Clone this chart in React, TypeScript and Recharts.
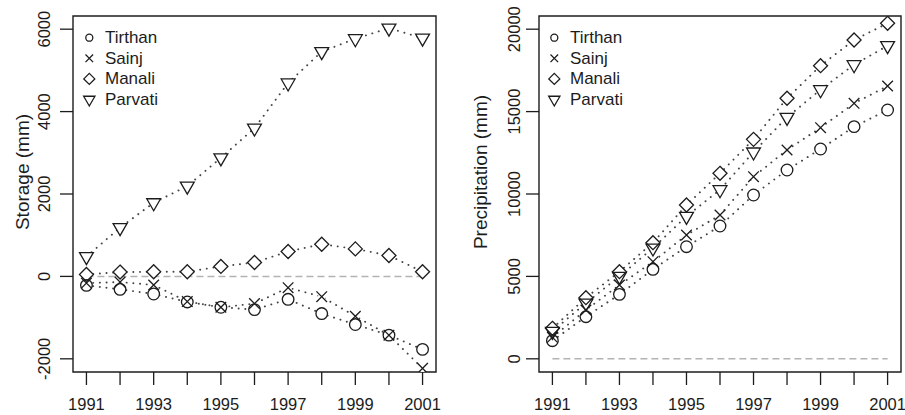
import React from "react";
import {
  LineChart,
  Line,
  XAxis,
  YAxis,
  ReferenceLine,
  ReferenceArea,
  Legend,
} from "recharts";

const FONT = "'Liberation Sans', Arial, Helvetica, sans-serif";
const INK = "#1c1c1c";

const years = [1991, 1992, 1993, 1994, 1995, 1996, 1997, 1998, 1999, 2000, 2001];
const yearLabels = [1991, 1993, 1995, 1997, 1999, 2001];

const seriesNames = ["Tirthan", "Sainj", "Manali", "Parvati"];
const seriesKeys = ["tirthan", "sainj", "manali", "parvati"];
const seriesShapes = ["circle", "cross", "diamond", "triangle"];

// storage (mm)
const storageTirthan = [-217, -314, -427, -620, -749, -805, -556, -902, -1168, -1426, -1772];
const storageSainj = [-161, -137, -209, -610, -749, -660, -274, -491, -967, -1426, -2232];
const storageManali = [48, 105, 113, 113, 242, 338, 604, 781, 668, 507, 113];
const storageParvati = [480, 1184, 1788, 2192, 2876, 3600, 4695, 5454, 5769, 6025, 5783];
const storageTicks = [-2000, 0, 2000, 4000, 6000];

// precipitation (mm)
const precipTirthan = [1100, 2556, 3912, 5430, 6802, 8058, 9940, 11456, 12730, 14085, 15097];
const precipSainj = [1305, 2961, 4478, 5892, 7512, 8725, 11050, 12670, 14023, 15500, 16553];
const precipManali = [1850, 3708, 5286, 7045, 9333, 11256, 13316, 15807, 17785, 19345, 20357];
const precipParvati = [1667, 3385, 5003, 6722, 8645, 10260, 12547, 14652, 16328, 17845, 18998];
const precipTicks = [0, 5000, 10000, 15000, 20000];

const storageRows = years.map((year, i) => ({
  year,
  tirthan: storageTirthan[i],
  sainj: storageSainj[i],
  manali: storageManali[i],
  parvati: storageParvati[i],
}));

const precipRows = years.map((year, i) => ({
  year,
  tirthan: precipTirthan[i],
  sainj: precipSainj[i],
  manali: precipManali[i],
  parvati: precipParvati[i],
}));

const X_DOMAIN: [number, number] = [1990.6, 2001.4];

// plot symbol sizes (big) and legend sizes (small)
const BIG: Record<string, number> = { circle: 5.8, cross: 5.3, diamond: 7, triangle: 8 };
const SMALL: Record<string, number> = { circle: 3.5, cross: 3.8, diamond: 5.5, triangle: 6.5 };

function symbol(shape: string, cx: number, cy: number, r: number, mode: "fill" | "line", key?: string) {
  const fill = mode === "fill" ? "#fff" : "none";
  const stroke = mode === "fill" ? "none" : INK;
  const sw = 1.3;
  if (shape === "circle") {
    return <circle key={key} cx={cx} cy={cy} r={r} fill={fill} stroke={stroke} strokeWidth={sw} />;
  }
  if (shape === "cross") {
    if (mode === "fill") return <circle key={key} cx={cx} cy={cy} r={r * 0.7} fill="#fff" />;
    const d = `M${cx - r},${cy - r}L${cx + r},${cy + r}M${cx - r},${cy + r}L${cx + r},${cy - r}`;
    return <path key={key} d={d} fill="none" stroke={stroke} strokeWidth={sw} />;
  }
  if (shape === "diamond") {
    const pts = `${cx},${cy - r} ${cx + r},${cy} ${cx},${cy + r} ${cx - r},${cy}`;
    return <polygon key={key} points={pts} fill={fill} stroke={stroke} strokeWidth={sw} />;
  }
  // downward triangle
  const h = r * 0.866;
  const pts = `${cx},${cy + r} ${cx - h},${cy - r / 2} ${cx + h},${cy - r / 2}`;
  return <polygon key={key} points={pts} fill={fill} stroke={stroke} strokeWidth={sw} strokeLinejoin="miter" />;
}

function makeDot(shape: string, mode: "fill" | "line", name: string) {
  return (props: any) => {
    const { cx, cy, index } = props;
    const key = `${name}-${mode}-${index}`;
    if (cx == null || cy == null) return <g key={key} />;
    return symbol(shape, cx, cy, BIG[shape], mode, key);
  };
}

function YTick(props: any) {
  const { x, y, payload } = props;
  return (
    <text
      x={x}
      y={y}
      transform={`rotate(-90 ${x} ${y})`}
      textAnchor="middle"
      fill={INK}
      style={{ fontSize: 16.5, fontFamily: FONT }}
    >
      {payload.value}
    </text>
  );
}

function AxisTitle({ tx, ty, text }: { tx: number; ty: number; text: string }) {
  return (
    <text
      x={tx}
      y={ty}
      transform={`rotate(-90 ${tx} ${ty})`}
      textAnchor="middle"
      fill={INK}
      style={{ fontSize: 19, fontFamily: FONT }}
    >
      {text}
    </text>
  );
}

function LegendBox() {
  return (
    <svg width={110} height={92} style={{ overflow: "visible" }}>
      {seriesNames.map((name, i) => {
        const cy = 11.7 + i * 20.6;
        return (
          <g key={name}>
            {symbol(seriesShapes[i], 9.3, cy, SMALL[seriesShapes[i]], "line")}
            <text
              x={25}
              y={cy}
              dominantBaseline="central"
              fill={INK}
              style={{ fontSize: 17, fontFamily: FONT }}
            >
              {name}
            </text>
          </g>
        );
      })}
    </svg>
  );
}

type PanelProps = {
  rows: any[];
  width: number;
  yAxisWidth: number;
  marginRight: number;
  yDomain: [number, number];
  yTicks: number[];
  yTickMargin: number;
  title: string;
  titleX: number;
  legendLeft: number;
};

function Panel(p: PanelProps) {
  const tickLine = { stroke: INK, strokeWidth: 1.3 };
  return (
    <LineChart
      width={p.width}
      height={415}
      data={p.rows}
      margin={{ top: 16, right: p.marginRight, bottom: 0, left: 0 }}
    >
      <XAxis
        dataKey="year"
        type="number"
        domain={X_DOMAIN}
        allowDataOverflow
        ticks={years}
        interval={0}
        tickFormatter={(v) => (yearLabels.includes(v) ? String(v) : "")}
        height={43}
        tickSize={13}
        tickMargin={13}
        axisLine={false}
        tickLine={tickLine}
        tick={{ fontSize: 16.5, fill: INK, fontFamily: FONT }}
      />
      <YAxis
        type="number"
        domain={p.yDomain}
        allowDataOverflow
        ticks={p.yTicks}
        interval={0}
        width={p.yAxisWidth}
        tickSize={13}
        tickMargin={p.yTickMargin}
        axisLine={false}
        tickLine={tickLine}
        tick={<YTick />}
        label={<AxisTitle tx={p.titleX} ty={172} text={p.title} />}
      />
      <ReferenceArea
        x1={X_DOMAIN[0]}
        x2={X_DOMAIN[1]}
        y1={p.yDomain[0]}
        y2={p.yDomain[1]}
        fill="none"
        fillOpacity={0}
        stroke={INK}
        strokeWidth={1.4}
        ifOverflow="visible"
      />
      <ReferenceLine
        segment={[
          { x: 1991, y: 0 },
          { x: 2001, y: 0 },
        ]}
        stroke="#b3b3b3"
        strokeDasharray="7 4"
        strokeWidth={1.5}
        ifOverflow="visible"
      />
      {seriesKeys.map((k) => (
        <Line
          key={`line-${k}`}
          dataKey={k}
          type="linear"
          stroke="#444"
          strokeWidth={1.9}
          strokeDasharray="0.1 6.6"
          strokeLinecap="round"
          dot={false}
          activeDot={false}
          legendType="none"
          isAnimationActive={false}
        />
      ))}
      {seriesKeys.map((k, i) => (
        <Line
          key={`mask-${k}`}
          dataKey={k}
          stroke="none"
          dot={makeDot(seriesShapes[i], "fill", k)}
          activeDot={false}
          legendType="none"
          isAnimationActive={false}
        />
      ))}
      {seriesKeys.map((k, i) => (
        <Line
          key={`mark-${k}`}
          dataKey={k}
          name={seriesNames[i]}
          stroke="none"
          dot={makeDot(seriesShapes[i], "line", k)}
          activeDot={false}
          isAnimationActive={false}
        />
      ))}
      <Legend
        layout="vertical"
        align="center"
        verticalAlign="middle"
        content={<LegendBox />}
        wrapperStyle={{ left: p.legendLeft, top: 26, width: 110, height: 92 }}
      />
    </LineChart>
  );
}

export default function App() {
  return (
    <div
      style={{
        position: "absolute",
        left: 0,
        top: 0,
        width: 905,
        height: 415,
        background: "#fff",
        display: "flex",
      }}
    >
      <Panel
        rows={storageRows}
        width={452}
        yAxisWidth={73}
        marginRight={16}
        yDomain={[-2320, 6320]}
        yTicks={storageTicks}
        yTickMargin={10}
        title="Storage (mm)"
        titleX={29}
        legendLeft={80}
      />
      <Panel
        rows={precipRows}
        width={453}
        yAxisWidth={87}
        marginRight={4}
        yDomain={[-800, 20800]}
        yTicks={precipTicks}
        yTickMargin={6}
        title="Precipitation (mm)"
        titleX={35}
        legendLeft={93}
      />
    </div>
  );
}
